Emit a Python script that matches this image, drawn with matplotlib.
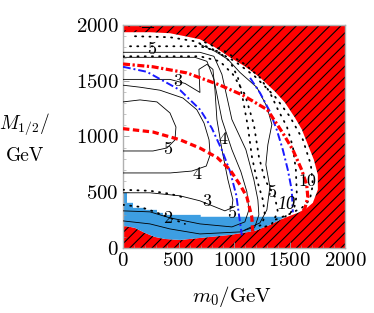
import numpy as np
import matplotlib.pyplot as plt
from matplotlib.patches import Rectangle, Polygon

plt.rcParams['font.family'] = 'serif'
plt.rcParams['font.serif'] = ['cmr10', 'DejaVu Serif']
plt.rcParams['mathtext.fontset'] = 'cm'
plt.rcParams['axes.unicode_minus'] = False
plt.rcParams['axes.formatter.use_mathtext'] = True
plt.rcParams['hatch.linewidth'] = 0.8

# =====================================================================
# data (m0, M_1/2) in GeV
# =====================================================================
# allowed (white) region boundary, clockwise from the top-left corner
allowed_m0 = [0, 243, 423, 603, 693, 828, 963, 1098, 1233, 1368, 1458, 1548, 1611, 1665, 1719,
              1755, 1755, 1710, 1647, 1575, 1503, 1413, 1323, 1188, 963, 693, 513, 378, 288, 198,
              108, 18, 0]
allowed_M = [1935, 1935, 1926, 1890, 1872, 1800, 1710, 1629, 1530, 1404, 1305, 1170, 1062, 927, 792,
             657, 522, 405, 351, 315, 288, 252, 207, 153, 117, 90, 72, 81, 99, 135,
             180, 198, 198]

# light blue band, top edge then back along the red edge
blue_m0 = [0, 36, 36, 90, 90, 198, 198, 306, 306, 360, 360, 700, 700, 1460,
           1413, 1323, 1188, 963, 693, 513, 378, 288, 198, 108, 18, 0]
blue_M = [495, 495, 405, 405, 360, 360, 342, 342, 315, 315, 297, 297, 280, 280,
          252, 207, 153, 117, 90, 72, 81, 99, 135, 180, 198, 198]

# red dashed curves
red_in_m0 = [0, 270, 515, 695, 850, 965, 1055, 1115, 1160, 1170]
red_in_M = [1070, 1040, 970, 895, 810, 700, 565, 460, 280, 120]
red_out_m0 = [0, 270, 575, 875, 1080, 1300, 1440, 1530, 1610, 1655, 1665, 1640, 1605]
red_out_M = [1650, 1625, 1570, 1460, 1370, 1240, 1030, 880, 700, 565, 455, 360, 305]

# blue dash-dotted curves
blue_in_m0 = [0, 215, 515, 695, 800, 890, 965, 1020, 1045, 1070]
blue_in_M = [1625, 1580, 1415, 1240, 1075, 880, 685, 475, 295, 115]
blue_out_m0 = [1145, 1235, 1325, 1385, 1440, 1485, 1520, 1530]
blue_out_M = [1525, 1390, 1220, 1060, 880, 700, 520, 320]

# solid black contours
c1_m0 = [0, 153, 306, 423, 477, 468, 396, 270, 126, 0]
c1_M = [1310, 1328, 1310, 1211, 1085, 969, 897, 870, 870, 870]
c2_m0 = [0, 153, 333, 540, 665, 730, 775, 785, 750, 620, 425, 0]
c2_M = [1460, 1442, 1415, 1345, 1240, 1120, 970, 835, 735, 690, 673, 673]
c3_m0 = [0, 423, 558, 693, 684, 756, 810, 828, 846, 891, 945, 990, 981, 918, 828, 693, 513, 243, 0]
c3_M = [1512, 1512, 1476, 1395, 1602, 1647, 1602, 1422, 1152, 882, 612, 432, 360, 333, 369, 423, 468, 495, 495]
c4_m0 = [0, 648, 756, 819, 891, 981, 1062, 1116, 1134, 1098, 981, 693, 423, 243, 0]
c4_M = [1710, 1710, 1674, 1512, 1152, 882, 684, 504, 342, 234, 189, 216, 270, 324, 333]
c5_m0 = [0, 693, 819, 891, 981, 1107, 1179, 1215, 1224, 1188, 1053, 693, 423, 243, 0]
c5_M = [1755, 1755, 1719, 1557, 1152, 882, 612, 432, 297, 189, 144, 126, 171, 216, 243]
c6_m0 = [693, 828, 945, 1053, 1206, 1296, 1341, 1305, 1287, 1323, 1296, 1233, 1098]
c6_M = [1827, 1764, 1692, 1575, 1440, 1269, 1107, 927, 747, 549, 342, 225, 162]

# dotted black contours
d1_m0 = [63, 693, 855, 963, 1035, 1080, 1125, 1161, 1206, 1260, 1278, 1251, 1143]
d1_M = [1809, 1809, 1764, 1674, 1530, 1332, 1089, 819, 612, 432, 297, 207, 171]
d2_m0 = [0, 693, 873, 990, 1098, 1179, 1224, 1278, 1368, 1395, 1341, 1233]
d2_M = [1719, 1719, 1674, 1557, 1377, 1107, 819, 612, 459, 324, 216, 171]
d3_m0 = [738, 918, 1098, 1233, 1323, 1395, 1476, 1530, 1557, 1566, 1539, 1458]
d3_M = [1845, 1764, 1647, 1530, 1395, 1242, 1089, 909, 702, 477, 342, 279]
d4_m0 = [108, 423, 648, 828, 1008, 1188, 1368, 1503, 1620, 1692, 1710, 1683, 1611, 1503, 1368]
d4_M = [1899, 1890, 1854, 1773, 1674, 1539, 1359, 1179, 972, 747, 567, 432, 360, 306, 252]
d6_m0 = [0, 243, 423, 558]
d6_M = [522, 513, 486, 450]
d7_m0 = [0, 153, 288, 423, 558]
d7_M = [387, 369, 324, 270, 216]

# contour labels
lab_text = ['5', '3', '5', '4', '4', '3', '2', '5', '5', '10']
lab_m0 = [261, 495, 405, 666, 900, 756, 405, 981, 1341, 1665]
lab_M = [1782, 1494, 882, 657, 972, 414, 270, 315, 495, 594]
ital_text = '10'
ital_m0, ital_M = 1476, 387

# =====================================================================
# figure
# =====================================================================
fig = plt.figure(figsize=(3.74, 3.13), dpi=100)
ax = fig.add_axes([0.3289, 0.2077, 0.5936, 0.7125])
ax.set_xlim(0, 2000)
ax.set_ylim(0, 2000)

# excluded region: red with black hatching, allowed region painted white over it
ax.add_patch(Rectangle((0, 0), 2000, 2000, facecolor='#ff0000', edgecolor='black',
                       hatch='///', linewidth=0, zorder=0))
ax.add_patch(Polygon(np.column_stack([allowed_m0, allowed_M]), closed=True,
                     facecolor='white', edgecolor='none', zorder=1))
ax.add_patch(Polygon(np.column_stack([blue_m0, blue_M]), closed=True,
                     facecolor='#3d9ee2', edgecolor='none', zorder=1))
# small red piece at the top left
ax.plot([0, 170], [1970, 1970], color='#ff0000', lw=2.5, zorder=2)
ax.plot([170, 270], [1985, 1985], color='black', lw=0.8, zorder=2)

# solid contours
for xs, ys in [(c1_m0, c1_M), (c2_m0, c2_M), (c3_m0, c3_M), (c4_m0, c4_M),
               (c5_m0, c5_M), (c6_m0, c6_M)]:
    ax.plot(xs, ys, color='black', lw=0.6, zorder=3)

# dotted contours
for xs, ys in [(d1_m0, d1_M), (d2_m0, d2_M), (d3_m0, d3_M), (d4_m0, d4_M),
               (d6_m0, d6_M), (d7_m0, d7_M)]:
    ax.plot(xs, ys, color='black', lw=1.3, dashes=(0.6, 3.4), dash_capstyle='round', zorder=3)

# blue dash-dot and red dashed lines
ax.plot(blue_in_m0, blue_in_M, color='#1a1aff', lw=1.4, dashes=(4, 1.5, 1, 1.5), zorder=4)
ax.plot(blue_out_m0, blue_out_M, color='#1a1aff', lw=1.4, dashes=(4, 1.5, 1, 1.5), zorder=4)
ax.plot(red_in_m0, red_in_M, color='#ff0000', lw=2.3, dashes=(2, 1.1), zorder=5)
ax.plot(red_out_m0, red_out_M, color='#ff0000', lw=2.3, dashes=(2.2, 0.8, 0.7, 0.8), zorder=5)

for t, x, y in zip(lab_text, lab_m0, lab_M):
    ax.text(x, y, t, fontsize=13, ha='center', va='center', zorder=6)
ax.text(ital_m0, ital_M, ital_text, fontsize=13, ha='center', va='center',
        family='Liberation Serif', style='italic', zorder=6)

# axes styling
ticks = [0, 500, 1000, 1500, 2000]
ax.set_xticks(ticks)
ax.set_yticks(ticks)
ax.set_xticks(np.arange(0, 2001, 100), minor=True)
ax.set_yticks(np.arange(0, 2001, 100), minor=True)
ax.tick_params(which='major', direction='in', length=4, width=0.6, color='#999999',
               labelsize=15, pad=3)
ax.tick_params(which='minor', direction='in', length=2, width=0.4, color='#999999')
for s in ax.spines.values():
    s.set_color('#b0b0b0')
    s.set_linewidth(1.0)

fig.text(0.066, 0.604, r'$M_{1/2}/$', fontsize=14, ha='center', va='center')
fig.text(0.066, 0.502, 'GeV', fontsize=14, ha='center', va='center')
fig.text(0.62, 0.054, r'$m_0/\mathrm{GeV}$', fontsize=15, ha='center', va='center')

fig.savefig('out.png', dpi=100)
